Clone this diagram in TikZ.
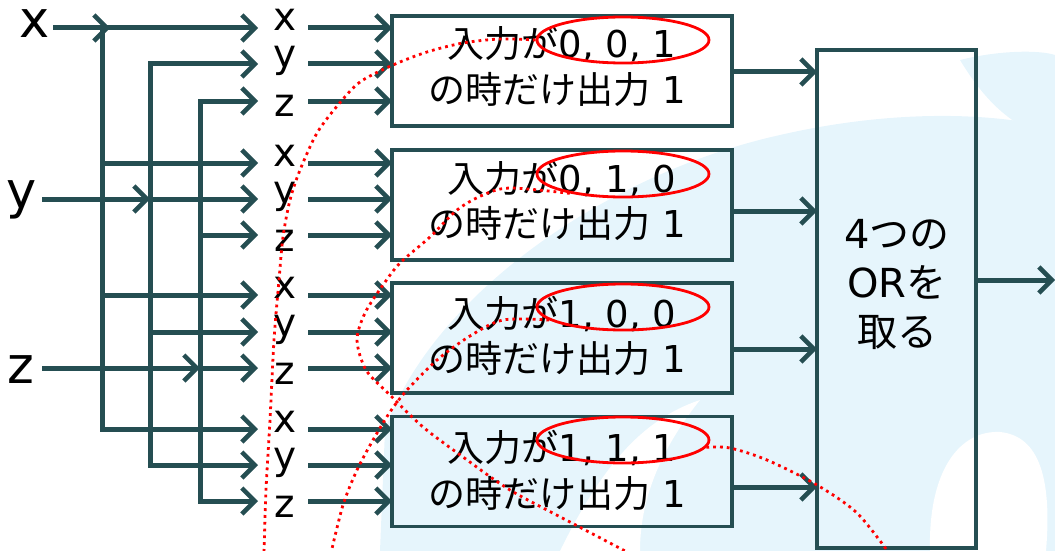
\documentclass[tikz,border=0pt]{standalone}
\usepackage{fontspec}
\setmainfont{DejaVu Sans}
\newfontfamily\jp{Noto Sans CJK JP}
\usetikzlibrary{arrows.meta,shapes.geometric}
\definecolor{ln}{RGB}{37,78,82}
\definecolor{bgb}{RGB}{230,245,252}
\begin{document}
\begin{tikzpicture}[x=1pt,y=-1pt,
  wire/.style={draw=ln,line width=5pt,-{Straight Barb[length=13pt,width=26pt,line width=4.5pt]}},
  bus/.style={draw=ln,line width=5pt,line cap=rect},
  gate/.style={draw=ln,line width=3.5pt,rectangle,minimum width=340pt,minimum height=110pt,inner sep=0pt},
  lbl/.style={font=\fontsize{39}{39}\selectfont,inner sep=0pt,anchor=base},
  big/.style={font=\fontsize{51}{51}\selectfont,inner sep=0pt,anchor=base},
  jtxt/.style={font=\fontsize{37}{37}\selectfont,inner sep=0pt,anchor=base},
  ortxt/.style={font=\fontsize{40}{40}\selectfont,inner sep=0pt,anchor=base},
  oval/.style={ellipse,draw=red,line width=2.8pt,minimum width=172pt,minimum height=46pt,inner sep=0pt},
  dots/.style={draw=red,line width=2.8pt,dash pattern=on 2.8pt off 4pt}]
\useasboundingbox (0,0) rectangle (1055,551);
% background watermark
\fill[bgb] (380,551) -- (385,430) .. controls (430,300) and (600,175) .. (780,135) .. controls (880,112) and (980,110) .. (1055,128) -- (1055,551) -- cycle;
\fill[bgb] (960,60) .. controls (1000,50) and (1040,50) .. (1055,55) -- (1055,140) .. controls (1020,130) and (990,110) .. (960,60) -- cycle;
\fill[white] (930,551) .. controls (928,470) and (960,430) .. (1000,432) .. controls (1040,436) and (1052,480) .. (1046,551) -- cycle;
\fill[white] (560,551) .. controls (600,470) and (640,420) .. (700,400) .. controls (660,450) and (640,500) .. (640,551) -- cycle;

% inputs
\node[big] (X) at (34.5,38) {x};
\node[big] (Y) at (22,208) {y};
\node[big] (Z) at (21,383) {z};
\coordinate (xs) at (53,28);  \coordinate (xa) at (110,28);
\coordinate (ys) at (42,199); \coordinate (ya) at (150,199);
\coordinate (zs) at (42,368); \coordinate (za) at (200,368);
\coordinate (xb0) at (102,28);  \coordinate (xb1) at (102,163); \coordinate (xb2) at (102,295); \coordinate (xb3) at (102,429);
\coordinate (yb0) at (150,64);  \coordinate (yb1) at (150,199); \coordinate (yb2) at (150,332); \coordinate (yb3) at (150,465);
\coordinate (zb0) at (200,101); \coordinate (zb1) at (200,235); \coordinate (zb2) at (200,368); \coordinate (zb3) at (200,501);

% gates
\foreach \g/\ya/\yb/\yc/\bc/\oy in {1/28/64/101/71/72, 2/163/199/235/205/211, 3/295/332/368/338/349, 4/429/465/501/471.5/487} {
  \node[gate] (b\g) at (562,\bc) {};
  \foreach \v/\yy/\dy in {x/\ya/3, y/\yb/4, z/\yc/16} {
    \coordinate (\v\g l) at (258,\yy);
    \coordinate (\v\g r) at (308,\yy);
    \coordinate (\v\g b) at (392,\yy);
    \node[lbl] (\v\g) at (285,{\yy+\dy}) {\v};
    \draw[wire] (\v\g r) -- (\v\g b);
  }
  \coordinate (o\g) at (732,\oy);
  \coordinate (i\g) at (817,\oy);
  \draw[wire] (o\g) -- (i\g);
}
\node[jtxt] (t1a) at (562,58)  {{\jp 入力が}0, 0, 1};
\node[jtxt] (t1b) at (557,103) {{\jp の時だけ出力} 1};
\node[jtxt] (t2a) at (562,192) {{\jp 入力が}0, 1, 0};
\node[jtxt] (t2b) at (557,237) {{\jp の時だけ出力} 1};
\node[jtxt] (t3a) at (562,327) {{\jp 入力が}1, 0, 0};
\node[jtxt] (t3b) at (557,372) {{\jp の時だけ出力} 1};
\node[jtxt] (t4a) at (562,461) {{\jp 入力が}1, 1, 1};
\node[jtxt] (t4b) at (557,507) {{\jp の時だけ出力} 1};

% wiring
\draw[wire] (xs) -- (xa);
\draw[wire] (ys) -- (ya);
\draw[wire] (zs) -- (za);
\draw[bus] (xb0) -- (xb3);
\draw[bus] (yb0) -- (yb3);
\draw[bus] (zb0) -- (zb3);
\draw[wire] (xb0) -- (x1l);
\draw[wire] (xb1) -- (x2l);
\draw[wire] (xb2) -- (x3l);
\draw[wire] (xb3) -- (x4l);
\draw[wire] (yb0) -- (y1l);
\draw[wire] (yb1) -- (y2l);
\draw[wire] (yb2) -- (y3l);
\draw[wire] (yb3) -- (y4l);
\draw[wire] (zb0) -- (z1l);
\draw[wire] (zb1) -- (z2l);
\draw[wire] (zb2) -- (z3l);
\draw[wire] (zb3) -- (z4l);

% OR box
\node[draw=ln,line width=3.5pt,minimum width=159pt,minimum height=498pt,inner sep=0pt] (orb) at (896.5,299) {};
\node[ortxt] (or1) at (897,248) {4{\jp つの}};
\node[ortxt] (or2) at (897,297) {OR{\jp を}};
\node[ortxt] (or3) at (897,346) {{\jp 取る}};
\coordinate (oo) at (976,280);
\coordinate (out) at (1055,280);
\draw[wire] (oo) -- (out);

% red annotations
\node[oval] (e1) at (623,40) {};
\node[oval] (e2) at (623,174) {};
\node[oval] (e3) at (623,307) {};
\node[oval] (e4) at (623,440) {};
\coordinate (c1end) at (264,553);
\coordinate (c2end) at (629,553);
\coordinate (c3end) at (331,553);
\coordinate (c4end) at (889,553);
\draw[dots] plot[smooth] coordinates {(e1.west) (500,39) (463,43) (427,52) (393,65) (360,82) (338,105) (317,133) (300,170) (290,200) (283,237) (279,280) (274,340) (270,420) (266,490) (c1end)};
\draw[dots] plot[smooth] coordinates {(e2.200) (510,188) (483,195) (457,210) (430,237) (400,263) (383,285) (365,313) (357,340) (366,370) (390,395) (423,427) (463,457) (510,490) (570,522) (c2end)};
\draw[dots] plot[smooth] coordinates {(e3.190) (503,320) (470,336) (437,360) (407,390) (390,412) (373,440) (357,470) (343,505) (c3end)};
\draw[dots] plot[smooth] coordinates {(e4.355) (730,448) (767,460) (817,485) (857,513) (c4end)};
\end{tikzpicture}
\end{document}
